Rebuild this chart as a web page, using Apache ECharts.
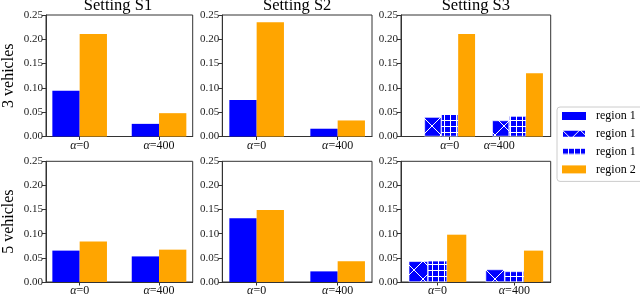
<!DOCTYPE html>
<html><head><meta charset="utf-8">
<script src="https://cdn.jsdelivr.net/npm/echarts@6/dist/echarts.min.js"></script>
<style>html,body{margin:0;padding:0;background:#fff}#c{width:640px;height:297px}</style>
</head><body><div id="c"></div>
<script>
// ---- text ----
const groupLabels = ['\u03b1=0', '\u03b1=400'];
const settingTitles = ['Setting S1', 'Setting S2', 'Setting S3'];
const rowNames = ['3 vehicles', '5 vehicles'];
const legendLabels = ['region 1', 'region 1', 'region 1', 'region 2'];

// ---- data (3 vehicles) ----
const s1v3Region1 = [0.094, 0.026];
const s1v3Region2 = [0.211, 0.048];
const s2v3Region1 = [0.075, 0.016];
const s2v3Region2 = [0.235, 0.033];
const s3v3Region1x = [0.040, 0.033];
const s3v3Region1plus = [0.046, 0.042];
const s3v3Region2 = [0.211, 0.130];
// ---- data (5 vehicles) ----
const s1v5Region1 = [0.065, 0.053];
const s1v5Region2 = [0.084, 0.067];
const s2v5Region1 = [0.132, 0.022];
const s2v5Region2 = [0.149, 0.043];
const s3v5Region1x = [0.043, 0.026];
const s3v5Region1plus = [0.044, 0.022];
const s3v5Region2 = [0.098, 0.065];

const groupPositions = [0, 1];

// ---- layout ----
const FONT = '"Liberation Serif", "DejaVu Serif", serif';
const BLUE = '#0000FF', ORANGE = '#FFA500';
const colLeft = [43.3, 222.3, 401];
const colWidth = [149.4, 149.7, 149.7];
const rowTop = [15, 161.3];
const rowHeight = 121.5;

function xHatch() {
  const c = document.createElement('canvas'); c.width = 18; c.height = 18;
  const g = c.getContext('2d');
  g.fillStyle = BLUE; g.fillRect(0, 0, 18, 18);
  g.strokeStyle = '#fff'; g.lineWidth = 1;
  g.beginPath(); g.moveTo(0, 0); g.lineTo(18, 18); g.moveTo(18, 0); g.lineTo(0, 18); g.stroke();
  return { image: c, repeat: 'repeat' };
}
function plusHatch() {
  const c = document.createElement('canvas'); c.width = 6; c.height = 6;
  const g = c.getContext('2d');
  g.fillStyle = BLUE; g.fillRect(0, 0, 6, 6);
  g.fillStyle = '#fff'; g.fillRect(0, 0, 6, 1); g.fillRect(0, 0, 1, 6);
  return { image: c, repeat: 'repeat' };
}
const X_PAT = xHatch(), PLUS_PAT = plusHatch();

const panels = [
  { r: 0, c: 0, series: [['r1', s1v3Region1], ['r2', s1v3Region2]], min: -0.424, max: 1.424, ticks: [0, 1], bw: 27.3 },
  { r: 0, c: 1, series: [['r1', s2v3Region1], ['r2', s2v3Region2]], min: -0.424, max: 1.424, ticks: [0, 1], bw: 27.3 },
  { r: 0, c: 2, series: [['r1x', s3v3Region1x], ['r1p', s3v3Region1plus], ['r2', s3v3Region2]], min: -0.718, max: 1.488, ticks: [0, 0.73], bw: 16.9 },
  { r: 1, c: 0, series: [['r1', s1v5Region1], ['r2', s1v5Region2]], min: -0.424, max: 1.424, ticks: [0, 1], bw: 27.3 },
  { r: 1, c: 1, series: [['r1', s2v5Region1], ['r2', s2v5Region2]], min: -0.424, max: 1.424, ticks: [0, 1], bw: 27.3 },
  { r: 1, c: 2, series: [['r1x', s3v5Region1x], ['r1p', s3v5Region1plus], ['r2', s3v5Region2]], min: -0.475, max: 1.473, ticks: [0, 1], bw: 19.2 }
];
const seriesName = { r1: 'region 1 solid', r1x: 'region 1 x', r1p: 'region 1 plus', r2: 'region 2' };
const seriesStyle = {
  r1: { color: BLUE },
  r1x: { color: X_PAT, borderColor: '#fff', borderWidth: 0.6 },
  r1p: { color: PLUS_PAT, borderColor: '#fff', borderWidth: 0.6 },
  r2: { color: ORANGE }
};
const legendNameMap = { 'region 1 solid': legendLabels[0], 'region 1 x': legendLabels[1], 'region 1 plus': legendLabels[2], 'region 2': legendLabels[3] };

const grids = [], xAxes = [], yAxes = [], series = [], titles = [];
const axisColor = '#333';
function fmtGroup(label) {
  const m = label.match(/^\u03b1(.*)$/);
  return '{a|\u03b1}{b|' + m[1] + '}';
}
panels.forEach((p, i) => {
  grids.push({ left: colLeft[p.c], top: rowTop[p.r], width: colWidth[p.c], height: rowHeight,
    show: true, borderColor: axisColor, borderWidth: 1, backgroundColor: 'transparent' });
  const tk = p.ticks;
  xAxes.push({ gridIndex: i, type: 'value', min: p.min, max: p.max,
    splitLine: { show: false },
    axisLine: { show: true, onZero: false, lineStyle: { color: axisColor } },
    axisTick: { show: true, customValues: tk, length: 3.5, lineStyle: { color: axisColor } },
    axisLabel: { customValues: tk, margin: 3, fontFamily: FONT, fontSize: 12, color: '#111',
      rich: { a: { fontFamily: FONT, fontSize: 12, fontStyle: 'italic', color: '#111' },
              b: { fontFamily: FONT, fontSize: 12, color: '#111' } },
      formatter: v => fmtGroup(Math.abs(v - tk[0]) < 1e-9 ? groupLabels[0] : groupLabels[1]) } });
  const ya = { gridIndex: i, type: 'value', min: 0, max: 0.25, interval: 0.05,
    splitLine: { show: false },
    axisLine: { show: true, onZero: false, lineStyle: { color: axisColor } },
    axisTick: { show: true, length: 4, lineStyle: { color: axisColor } },
    axisLabel: { margin: 3, fontFamily: FONT, fontSize: 11, color: '#222', formatter: v => v.toFixed(2) } };
  if (p.c === 0) {
    Object.assign(ya, { name: rowNames[p.r], nameLocation: 'middle', nameRotate: 90, nameGap: 29,
      nameTextStyle: { fontFamily: FONT, fontSize: 16, color: '#000' } });
  }
  yAxes.push(ya);
  p.series.forEach(([key, vals]) => {
    series.push({ type: 'bar', name: seriesName[key], xAxisIndex: i, yAxisIndex: i,
      barWidth: p.bw, barGap: '0%', itemStyle: seriesStyle[key], silent: true, animation: false,
      data: vals.map((v, k) => [groupPositions[k], v]) });
  });
  if (p.r === 0) {
    titles.push({ text: settingTitles[p.c], left: colLeft[p.c] + colWidth[p.c] / 2, textAlign: 'center',
      top: -3, padding: 0, textStyle: { fontFamily: FONT, fontSize: 16.5, fontWeight: 'normal', color: '#000' } });
  }
});

const chart = echarts.init(document.getElementById('c'), null, { renderer: 'canvas' });
chart.setOption({
  animation: false,
  title: titles,
  grid: grids, xAxis: xAxes, yAxis: yAxes, series: series,
  legend: { orient: 'vertical', left: 557, top: 107, padding: [3, 30, 6, 4],
    data: ['region 1 solid', 'region 1 x', 'region 1 plus', 'region 2'],
    icon: 'rect', itemWidth: 24, itemHeight: 8, itemGap: 5.8, selectedMode: false,
    borderColor: '#ccc', borderWidth: 1, borderRadius: 3, backgroundColor: '#fff',
    formatter: n => legendNameMap[n],
    textStyle: { fontFamily: FONT, fontSize: 12, color: '#000', lineHeight: 12, padding: [0, 0, 0, 5] } }
});
</script></body></html>
